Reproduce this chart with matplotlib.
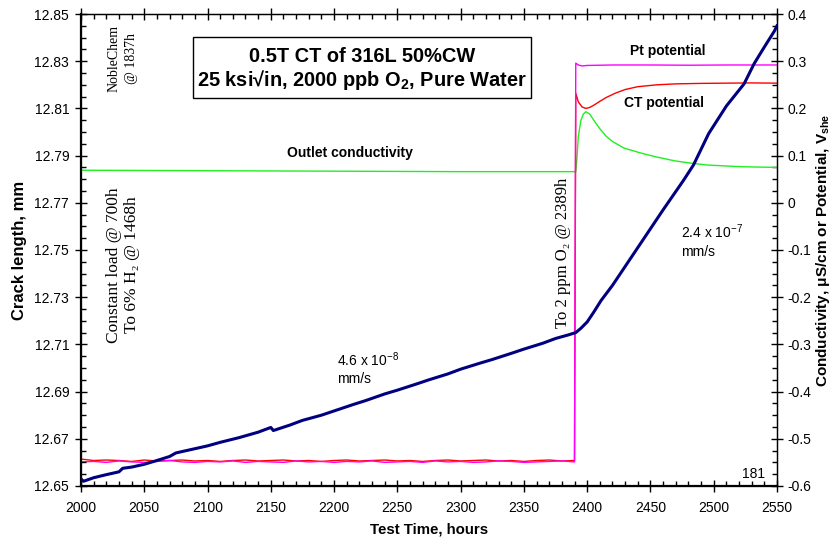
import matplotlib
matplotlib.use("Agg")
import matplotlib.pyplot as plt
from matplotlib.ticker import MultipleLocator, FixedLocator, FormatStrFormatter, FuncFormatter
from matplotlib.patches import Rectangle

plt.rcParams["font.family"] = ["Liberation Sans", "DejaVu Sans"]
plt.rcParams["mathtext.default"] = "regular"

# Crack length (left axis)
crack_t = [2000, 2002, 2010, 2020, 2030, 2033, 2040, 2050, 2060, 2070, 2075, 2085,
           2100, 2110, 2125, 2140, 2150, 2152, 2165, 2175, 2190, 2200, 2215, 2225,
           2240, 2250, 2265, 2275, 2290, 2300, 2315, 2325, 2340, 2350, 2365, 2375,
           2385, 2391, 2395, 2400, 2405, 2411, 2420, 2430, 2440, 2450, 2460, 2476,
           2484, 2496, 2510, 2524, 2532, 2540, 2548, 2550]
crack_mm = [12.6530, 12.6520, 12.6535, 12.6548, 12.6560, 12.6575, 12.6580, 12.6592,
            12.6608, 12.6625, 12.6640, 12.6652, 12.6670, 12.6685, 12.6705, 12.6728,
            12.6748, 12.6735, 12.6758, 12.6778, 12.6800, 12.6818, 12.6845, 12.6862,
            12.6890, 12.6906, 12.6932, 12.6950, 12.6975, 12.6995, 12.7020, 12.7036,
            12.7062, 12.7080, 12.7105, 12.7125, 12.7140, 12.7150, 12.7168, 12.7195,
            12.7235, 12.7286, 12.7350, 12.7430, 12.7510, 12.7590, 12.7670, 12.7794,
            12.7860, 12.7993, 12.8110, 12.8204, 12.8290, 12.8360, 12.8428, 12.8450]
crack_ticks = [12.65, 12.67, 12.69, 12.71, 12.73, 12.75, 12.77, 12.79, 12.81, 12.83, 12.85]

# Outlet conductivity (right axis)
cond_t = [2000, 2100, 2200, 2300, 2391, 2392, 2393, 2395, 2397, 2399, 2402, 2406,
          2410, 2415, 2420, 2429, 2443, 2455, 2469, 2482, 2495, 2510, 2522, 2535, 2550]
cond_v = [0.069, 0.068, 0.067, 0.066, 0.066, 0.098, 0.140, 0.174, 0.188, 0.193,
          0.188, 0.172, 0.157, 0.141, 0.130, 0.116, 0.105, 0.097, 0.089, 0.084,
          0.080, 0.078, 0.0765, 0.0757, 0.075]

# Potentials before O2 addition (every 10 h, 2000-2390)
pre_t = list(range(2000, 2391, 10))
ct_pre = [-0.543, -0.546, -0.545, -0.546, -0.548, -0.545, -0.547, -0.546, -0.545, -0.547,
          -0.546, -0.548, -0.546, -0.545, -0.547, -0.546, -0.545, -0.547, -0.546, -0.548,
          -0.546, -0.545, -0.547, -0.546, -0.545, -0.547, -0.546, -0.548, -0.546, -0.545,
          -0.547, -0.546, -0.545, -0.547, -0.546, -0.548, -0.546, -0.545, -0.547, -0.546]
pt_pre = [-0.549, -0.548, -0.550, -0.547, -0.549, -0.550, -0.548, -0.546, -0.549, -0.550,
          -0.548, -0.549, -0.547, -0.550, -0.548, -0.549, -0.550, -0.547, -0.549, -0.548,
          -0.550, -0.548, -0.549, -0.547, -0.550, -0.549, -0.548, -0.550, -0.547, -0.549,
          -0.548, -0.550, -0.549, -0.547, -0.548, -0.550, -0.549, -0.548, -0.547, -0.549]

# Potentials after O2 addition
ct_post_t = [2391, 2393, 2396, 2399, 2402, 2406, 2410, 2415, 2422, 2430, 2440, 2455,
             2470, 2490, 2510, 2530, 2550]
ct_post = [0.232, 0.214, 0.203, 0.200, 0.202, 0.208, 0.215, 0.223, 0.232, 0.240,
           0.246, 0.250, 0.252, 0.253, 0.2535, 0.254, 0.2535]
pt_post_t = [2391, 2393, 2396, 2400, 2420, 2450, 2480, 2510, 2550]
pt_post = [0.296, 0.292, 0.290, 0.291, 0.292, 0.292, 0.2915, 0.292, 0.292]

navy = "#000080"
green = "#22ee22"
red = "#ff0000"
magenta = "#ff00ff"

fig = plt.figure(figsize=(8.35, 5.43), dpi=100)
ax = fig.add_axes([0.097, 0.105, 0.8335, 0.8692])
ax2 = ax.twinx()

ax2.plot(cond_t, cond_v, color=green, lw=1.0, zorder=2)
ax2.plot(pre_t + ct_post_t, ct_pre + ct_post, color=red, lw=1.0, zorder=3)
ax2.plot(pre_t + pt_post_t, pt_pre + pt_post, color=magenta, lw=1.0, zorder=4)
ax2.set_ylim(-0.6, 0.4)

ax.set_zorder(ax2.get_zorder() + 1)
ax.patch.set_visible(False)
ax.plot(crack_t, crack_mm, color=navy, lw=2.2, zorder=5)
ax.set_xlim(2000, 2550)
ax.set_ylim(12.65, 12.85)

ax.xaxis.set_major_locator(MultipleLocator(50))
ax.xaxis.set_minor_locator(MultipleLocator(10))
ax.yaxis.set_major_locator(FixedLocator(crack_ticks))
ax.yaxis.set_minor_locator(MultipleLocator(0.005))
ax.yaxis.set_major_formatter(FormatStrFormatter("%.2f"))
ax2.yaxis.set_major_locator(MultipleLocator(0.1))
ax2.yaxis.set_minor_locator(MultipleLocator(0.025))
ax2.yaxis.set_major_formatter(FuncFormatter(
    lambda v, p: "0" if abs(v) < 1e-9 else ("%.1f" % v)))

ax.tick_params(axis="both", which="major", direction="inout", length=9, width=1,
               labelsize=10, pad=4, top=True)
ax.tick_params(axis="both", which="minor", direction="in", length=3.5, width=1, top=True)
ax.tick_params(axis="x", which="major", pad=6)
ax2.tick_params(axis="y", which="major", direction="inout", length=9, width=1,
                labelsize=10, pad=3)
ax2.tick_params(axis="y", which="minor", direction="in", length=3.5, width=1)

for side in ("left", "bottom"):
    ax.spines[side].set_linewidth(1.6)
for side in ("top", "right"):
    ax.spines[side].set_linewidth(0.9)
    ax2.spines[side].set_linewidth(0.9)

ax.set_xlabel("Test Time, hours", fontsize=10.8, fontweight="bold", labelpad=6)
ax.set_ylabel("Crack length, mm", fontsize=12, fontweight="bold", labelpad=5)
ax2.set_ylabel(r"Conductivity, μS/cm or Potential, V$_{she}$", fontsize=11,
               fontweight="bold", labelpad=2)

# Title box
ax.add_patch(Rectangle((0.161, 0.822), 0.4856, 0.129, transform=ax.transAxes,
                       facecolor="white", edgecolor="black", lw=1.0, zorder=6))
ax.text(0.404, 0.909, "0.5T CT of 316L 50%CW", transform=ax.transAxes,
        ha="center", va="center", fontsize=14.4, fontweight="bold", zorder=7)
ax.text(0.404, 0.860, "25 ksi√in, 2000 ppb O$_2$, Pure Water", transform=ax.transAxes,
        ha="center", va="center", fontsize=14.4, fontweight="bold", zorder=7)

# Curve labels
ax.text(0.3865, 0.7055, "Outlet conductivity", transform=ax.transAxes,
        ha="center", va="center", fontsize=10, fontweight="bold")
ax.text(0.8434, 0.9216, "Pt potential", transform=ax.transAxes,
        ha="center", va="center", fontsize=10, fontweight="bold")
ax.text(0.8376, 0.8114, "CT potential", transform=ax.transAxes,
        ha="center", va="center", fontsize=10, fontweight="bold")

# Growth rates
ax.text(0.368, 0.267, r"4.6 x 10$^{-8}$", transform=ax.transAxes,
        ha="left", va="center", fontsize=10)
ax.text(0.368, 0.227, "mm/s", transform=ax.transAxes,
        ha="left", va="center", fontsize=10)
ax.text(0.862, 0.538, r"2.4 x 10$^{-7}$", transform=ax.transAxes,
        ha="left", va="center", fontsize=10)
ax.text(0.862, 0.495, "mm/s", transform=ax.transAxes,
        ha="left", va="center", fontsize=10)
ax.text(0.983, 0.0254, "181", transform=ax.transAxes,
        ha="right", va="center", fontsize=10)

# Test history notes
serif = ["Liberation Serif", "DejaVu Serif"]
ax.text(0.060, 0.905, "NobleChem\n@ 1837h", transform=ax.transAxes, rotation=90,
        ha="center", va="center", multialignment="center", fontsize=10,
        family=serif, linespacing=1.45)
ax.text(0.060, 0.468, "Constant load @ 700h\nTo 6% H₂ @ 1468h", transform=ax.transAxes,
        rotation=90, ha="center", va="center", multialignment="center", fontsize=12.5,
        family=serif, linespacing=1.2)
ax.text(0.6925, 0.494, "To 2 ppm O₂ @ 2389h", transform=ax.transAxes, rotation=90,
        ha="center", va="center", fontsize=12, family=serif)

fig.savefig("out.png", dpi=100)
